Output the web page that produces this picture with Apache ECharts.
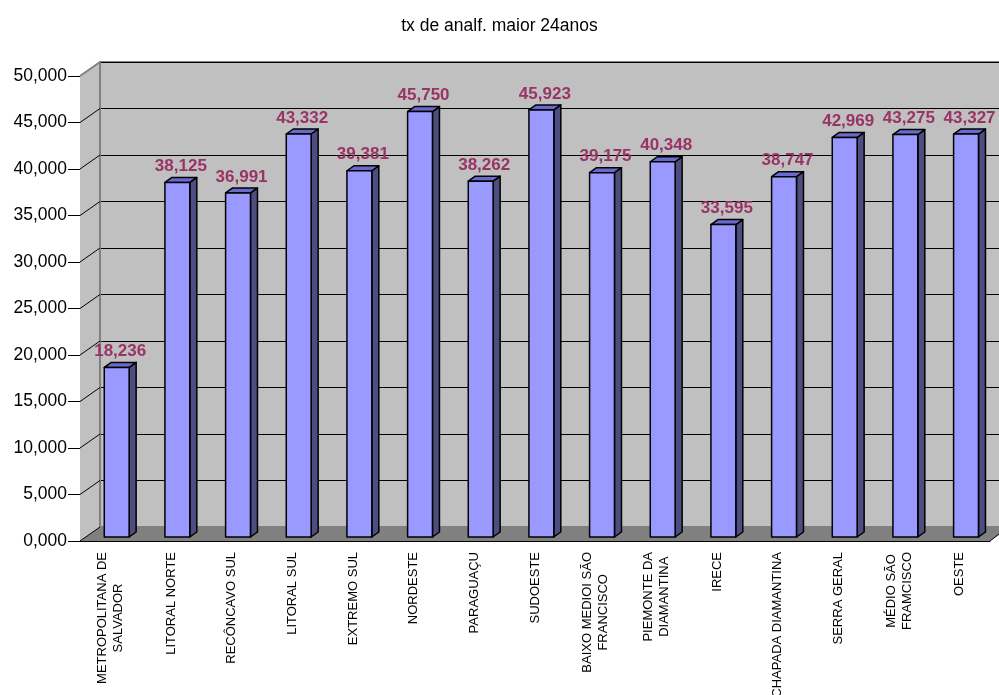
<!DOCTYPE html>
<html lang="pt">
<head>
  <meta charset="UTF-8">
  <title>tx de analf. maior 24anos</title>
  <script src="https://cdn.jsdelivr.net/npm/echarts@6/dist/echarts.min.js"></script>
  <style>
    html, body { margin: 0; padding: 0; background: #fff; }
    #chart { width: 999px; height: 695px; }
  </style>
</head>
<body>
<div id="chart"></div>
<script>
  // data
  const regioes = [
    'METROPOLITANA DE\nSALVADOR', 'LITORAL NORTE', 'RECÔNCAVO SUL', 'LITORAL SUL',
    'EXTREMO SUL', 'NORDESTE', 'PARAGUAÇU', 'SUDOESTE', 'BAIXO MEDIOI SÃO\nFRANCISCO',
    'PIEMONTE DA\nDIAMANTINA', 'IRECE', 'CHAPADA DIAMANTINA', 'SERRA GERAL',
    'MÉDIO SÃO\nFRAMCISCO', 'OESTE'
  ];
  const taxas = [18.236, 38.125, 36.991, 43.332, 39.381, 45.750, 38.262, 45.923,
    39.175, 40.348, 33.595, 38.747, 42.969, 43.275, 43.327];
  const yTicks = [0, 5, 10, 15, 20, 25, 30, 35, 40, 45, 50];

  const font = 'Arial, "Liberation Sans", sans-serif';
  const DX = 20, DY = 14;   // depth of the walls
  const fmt = v => Number(v).toFixed(3).replace('.', ',');

  let chart = echarts.init(document.getElementById('chart'));

  let option = {
    backgroundColor: '#fff',
    animation: false,
    title: {
      text: 'tx de analf. maior 24anos',
      left: 'center',
      top: 12,
      textStyle: {fontFamily: font, fontSize: 17.5, fontWeight: 'normal', color: '#000'}
    },
    grid: [
      {left: 80, right: 9, top: 76, bottom: 154, outerBoundsMode: 'none', containLabel: false},
      {left: 80 + DX, right: -3, top: 76 - DY, bottom: 154 + DY, show: true,
        outerBoundsMode: 'none', containLabel: false,
        backgroundColor: '#c0c0c0', borderColor: '#808080', borderWidth: 2}
    ],
    xAxis: [
      {
        type: 'category', gridIndex: 0, data: regioes,
        axisLine: {lineStyle: {color: '#000', width: 1}},
        axisTick: {length: 7, lineStyle: {color: '#000'}},
        axisLabel: {
          interval: 0, rotate: 90, margin: 11, color: '#000',
          fontFamily: font, fontSize: 13,
          formatter: v => v.split('\n').map(s => '{c|' + s + '}').join('\n'),
          rich: {c: {align: 'center', fontFamily: font, fontSize: 13, lineHeight: 16, color: '#000'}}
        }
      },
      {type: 'category', gridIndex: 1, data: regioes, show: false}
    ],
    yAxis: [
      {
        type: 'value', gridIndex: 0, min: 0, max: 50, interval: 5,
        axisLine: {show: true, lineStyle: {color: '#000'}},
        axisTick: {show: true, length: 12, lineStyle: {color: '#000'}},
        splitLine: {show: false},
        axisLabel: {margin: 13, color: '#000', fontFamily: font, fontSize: 17.5, formatter: fmt}
      },
      {
        type: 'value', gridIndex: 1, min: 0, max: 50, interval: 5,
        axisLine: {show: false}, axisTick: {show: false}, axisLabel: {show: false},
        splitLine: {show: true, lineStyle: {color: '#000', width: 1}}
      }
    ],
    series: [
      {
        // left wall, floor and the slanted grid stubs
        type: 'custom', xAxisIndex: 0, yAxisIndex: 0, z: 1, silent: true,
        data: [[0, 0]],
        renderItem: function (params, api) {
          const cs = params.coordSys;
          const x0 = cs.x, xr = cs.x + cs.width;
          const yTop = api.coord([0, 50])[1], yBot = api.coord([0, 0])[1];
          const children = [
            {type: 'polygon', shape: {points: [[x0, yTop], [x0 + DX, yTop - DY], [x0 + DX, yBot - DY], [x0, yBot]]},
              style: {fill: '#c0c0c0', stroke: null}},
            {type: 'polygon', shape: {points: [[x0, yBot], [x0 + DX, yBot - DY], [xr + DX, yBot - DY], [xr, yBot]]},
              style: {fill: '#808080', stroke: null}},
            {type: 'line', shape: {x1: x0 + DX, y1: yTop - DY, x2: x0 + DX, y2: yBot - DY},
              style: {stroke: '#808080', lineWidth: 2}},
            {type: 'line', shape: {x1: xr, y1: yBot, x2: xr + 9, y2: yBot - 7},
              style: {stroke: '#000', lineWidth: 1}}
          ];
          yTicks.forEach(function (t) {
            const y = api.coord([0, t])[1];
            children.push({type: 'line', shape: {x1: x0, y1: y, x2: x0 + DX, y2: y - DY},
              style: {stroke: t === 50 ? '#808080' : '#000', lineWidth: t === 50 ? 2 : 1}});
          });
          return {type: 'group', children: children};
        }
      },
      {
        // 3d bars
        type: 'custom', xAxisIndex: 0, yAxisIndex: 0, z: 5,
        encode: {x: 0, y: 1},
        data: taxas.map((v, i) => [i, v]),
        renderItem: function (params, api) {
          const i = api.value(0);
          const v = api.value(1);
          const top = api.coord([i, v]);
          const base = api.coord([i, 0]);
          const band = api.size([1, 0])[0];
          const w = band * 0.41, d = 7, h = 5;
          const x1 = top[0] - band * 0.1, x2 = x1 + w;
          const yt = top[1] - 4, yb = base[1] - 4;
          const edge = {stroke: '#000', lineWidth: 1.5, lineJoin: 'round'};
          return {
            type: 'group',
            children: [
              {type: 'polygon', shape: {points: [[x2, yt], [x2 + d, yt - h], [x2 + d, yb - h], [x2, yb]]},
                style: Object.assign({fill: '#4d4d80'}, edge)},
              {type: 'polygon', shape: {points: [[x1, yt], [x1 + d, yt - h], [x2 + d, yt - h], [x2, yt]]},
                style: Object.assign({fill: '#6a6acc'}, edge)},
              {type: 'rect', shape: {x: x1, y: yt, width: w, height: yb - yt},
                style: Object.assign({fill: '#9999ff'}, edge)},
              {type: 'text', x: x1 + (w + d) / 2, y: yt - 16, z2: 10,
                style: {text: fmt(v), fill: '#993366', font: 'bold 17px ' + font,
                  align: 'center', verticalAlign: 'middle'}}
            ]
          };
        }
      }
    ]
  };
  chart.setOption(option);
</script>
</body>
</html>
